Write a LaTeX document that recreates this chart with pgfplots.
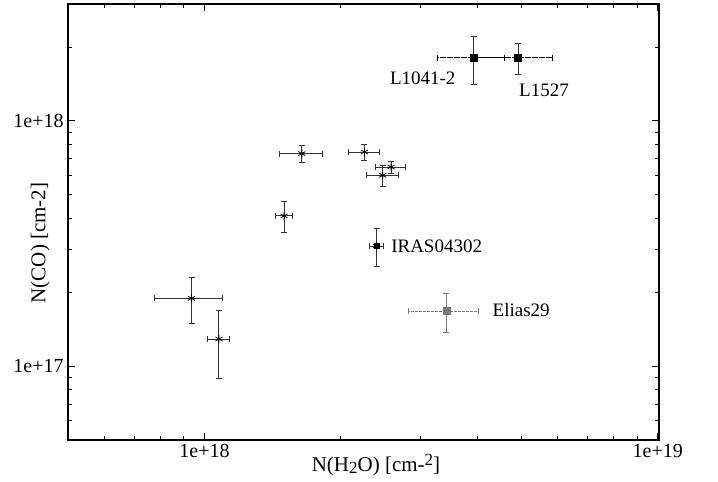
\documentclass[border=0pt]{standalone}
\usepackage{pgfplots}
\pgfplotsset{compat=1.18}
\usepackage{pgfplotstable}
\usepackage{fontspec}
\setmainfont{Liberation Serif}

\definecolor{errgray}{RGB}{50,50,50}
\definecolor{sqgray}{RGB}{120,120,120}

% x y ex ey
\pgfplotstableread{
x        y        ex       ey
9.36e17  1.89e17  1.6e17   0.40e17
1.076e18 1.29e17  0.06e18  0.40e17
1.64e18  7.36e17  0.18e18  0.60e17
1.498e18 4.10e17  0.065e18 0.59e17
2.253e18 7.47e17  0.18e18  0.56e17
2.58e18  6.49e17  0.20e18  0.37e17
2.473e18 6.00e17  0.20e18  0.58e17
}\others

% named sources: x y ex ey
\pgfplotstableread{
x        y        ex       ey
3.925e18 1.807e18 0.66e18  0.40e18
4.92e18  1.807e18 0.94e18  0.26e18
}\lsources

\begin{document}
\begin{tikzpicture}[x=1pt,y=1pt]
\path[use as bounding box] (0,0) rectangle (718,482);
\begin{axis}[
    at={(68pt,42pt)}, anchor=south west,
    scale only axis,
    width=591pt, height=436pt,
    xmode=log, ymode=log,
    xmin=5e17, xmax=1.007e19,
    ymin=5e16, ymax=3e18,
    xtick={1e18,1e19}, xticklabels={1e+18,1e+19},
    ytick={1e17,1e18}, yticklabels={1e+17,1e+18},
    minor xtick={6e17,7e17,8e17,9e17,2e18,3e18,4e18,5e18,6e18,7e18,8e18,9e18},
    minor ytick={6e16,7e16,8e16,9e16,2e17,3e17,4e17,5e17,6e17,7e17,8e17,9e17,2e18,3e18},
    tick align=inside,
    major tick length=7pt, minor tick length=4pt,
    tick style={black, line width=0.9pt},
    axis line style={line width=1.3pt},
    ticklabel style={font=\fontsize{20}{24}\selectfont},
    xticklabel style={yshift=-1pt},
    yticklabel style={xshift=-1pt},
    xlabel={N(H\raisebox{-0.25ex}{\fontsize{17}{18}\selectfont 2}O) [cm-\raisebox{0.6ex}{\fontsize{17}{18}\selectfont 2}]},
    ylabel={N(CO) [cm-2]},
    label style={font=\fontsize{21}{24}\selectfont},
    xlabel style={at={(axis description cs:0.521,-0.057)}, anchor=center},
    ylabel style={at={(axis description cs:-0.047,0.452)}, anchor=center},
    error bars/error bar style={line width=0.9pt},
    error bars/error mark options={rotate=90, line width=0.9pt, mark size=3pt},
    clip=false,
]
% sources without names
\addplot[only marks, mark=asterisk, mark size=4pt, black, line width=0.8pt,
    error bars/.cd, x dir=both, x explicit, y dir=both, y explicit,
    error bar style={errgray}]
    table[x=x, y=y, x error=ex, y error=ey] {\others};

% IRAS04302
\addplot[only marks, mark=square*, mark size=2.5pt, black,
    error bars/.cd, x dir=both, x explicit, y dir=both, y explicit,
    error bar style={errgray}]
    coordinates {(2.398e18,3.09e17) +- (0.09e18,0.55e17)};
\addplot[only marks, mark=asterisk, mark size=4pt, black, line width=0.8pt]
    coordinates {(2.398e18,3.09e17)};

% Elias29: dashed x errors, solid y errors
\addplot[only marks, mark=none, sqgray,
    error bars/.cd, x dir=both, x explicit,
    error bar style={sqgray, dash pattern=on 3pt off 1pt},
    error mark options={rotate=90, sqgray, solid, mark size=3pt}]
    coordinates {(3.415e18,1.677e17) +- (0.6e18,0.3e17)};
\addplot[only marks, mark=square*, mark size=3.5pt, sqgray,
    error bars/.cd, y dir=both, y explicit,
    error bar style={sqgray, line width=0.8pt},
    error mark options={rotate=90, sqgray, mark size=3pt}]
    coordinates {(3.415e18,1.677e17) +- (0.6e18,0.3e17)};

% L1041-2 and L1527: dashed x errors, solid y errors
\addplot[only marks, mark=none, black,
    error bars/.cd, x dir=both, x explicit,
    error bar style={black, dash pattern=on 6pt off 1pt},
    error mark options={rotate=90, black, solid, mark size=3pt}]
    table[x=x, y=y, x error=ex, y error=ey] {\lsources};
\addplot[only marks, mark=square*, mark size=3.5pt, black,
    error bars/.cd, y dir=both, y explicit,
    error bar style={errgray, line width=0.8pt},
    error mark options={rotate=90, errgray, mark size=3pt}]
    table[x=x, y=y, x error=ex, y error=ey] {\lsources};

\node[font=\fontsize{19}{22}\selectfont, inner sep=0] at (axis cs:3.03e18,1.494e18) {L1041-2};
\node[font=\fontsize{19}{22}\selectfont, inner sep=0] at (axis cs:5.61e18,1.335e18) {L1527};
\node[font=\fontsize{19}{22}\selectfont, inner sep=0, anchor=west] at (axis cs:2.58e18,3.09e17) {IRAS04302};
\node[font=\fontsize{19}{22}\selectfont, inner sep=0, anchor=west] at (axis cs:4.32e18,1.688e17) {Elias29};
\end{axis}
\end{tikzpicture}
\end{document}
